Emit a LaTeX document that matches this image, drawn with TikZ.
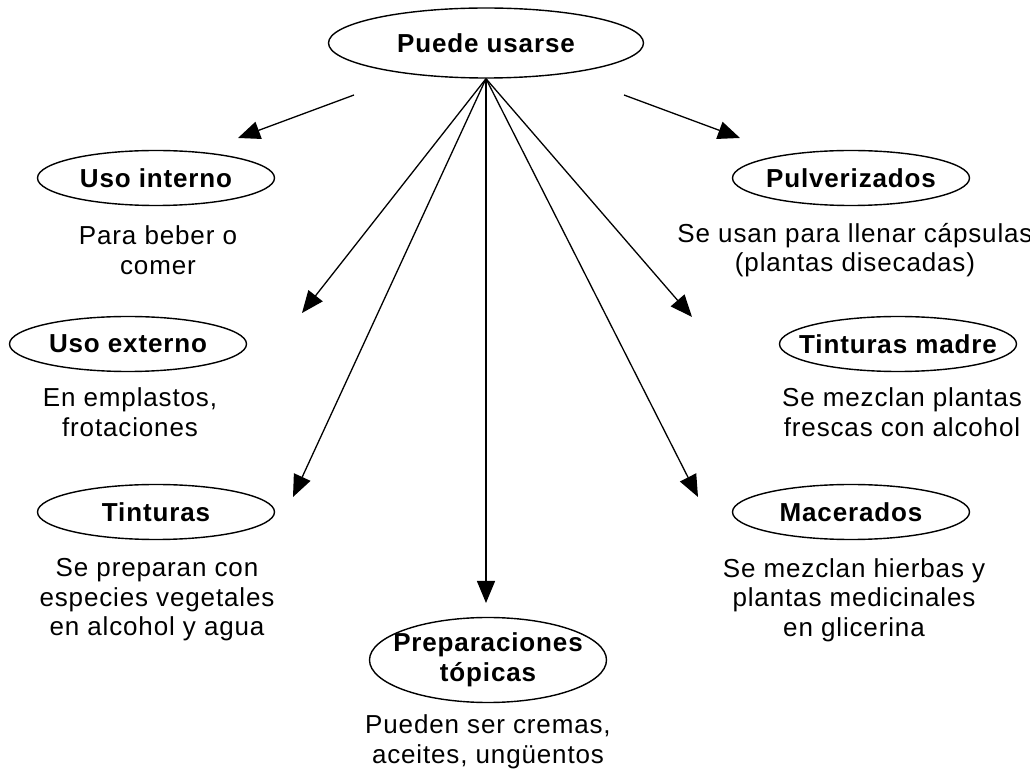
\documentclass[tikz,border=0pt]{standalone}
\usepackage{fontspec}
\setmainfont{Liberation Sans}[LetterSpace=3.3]
\usetikzlibrary{arrows.meta,shapes.geometric}

\tikzset{
  oval/.style={draw, ellipse, line width=0.7pt, inner xsep=-10pt, inner ysep=0pt,
    minimum width=118.5pt, minimum height=27.5pt, align=center,
    font=\fontsize{13}{14.8}\selectfont\bfseries},
  desc/.style={inner sep=0pt, align=center, font=\fontsize{13}{14.8}\selectfont},
  arr/.style={-{Triangle[length=11pt,width=9pt]}, line width=0.65pt}
}

\begin{document}
\begin{tikzpicture}[x=0.5pt,y=-0.5pt]
  \useasboundingbox (0,0) rectangle (1030,775);

  % centre
  \node[oval, minimum width=157.5pt, minimum height=35pt] (usarse) at (486,43) {Puede usarse};

  % left column
  \node[oval] (interno) at (156,178) {Uso interno};
  \node[desc] (interno-d) at (158,250) {Para beber o\\comer};
  \node[oval] (externo) at (128,344) {Uso externo};
  \node[desc] (externo-d) at (130,412) {En emplastos,\\frotaciones};
  \node[oval] (tinturas) at (156,512) {Tinturas};
  \node[desc] (tinturas-d) at (157,600) {Se preparan con\\especies vegetales\\en alcohol y agua};

  % bottom
  \node[oval, minimum height=42.5pt] (topicas) at (488,660) {Preparaciones\\tópicas};
  \node[desc] (topicas-d) at (488,742) {Pueden ser cremas,\\aceites, ungüentos};

  % right column
  \node[oval] (pulv) at (851,178) {Pulverizados};
  \node[desc] (pulv-d) at (855,250) {Se usan para llenar cápsulas\\(plantas disecadas)};
  \node[oval] (madre) at (898,344) {Tinturas madre};
  \node[desc] (madre-d) at (902,412) {Se mezclan plantas\\frescas con alcohol};
  \node[oval] (macerados) at (851,512) {Macerados};
  \node[desc] (macerados-d) at (854,600) {Se mezclan hierbas y\\plantas medicinales\\en glicerina};

  % arrow ends
  \coordinate (l-from) at (354,95);
  \coordinate (l-to) at (238,138);
  \coordinate (r-from) at (624,95);
  \coordinate (r-to) at (740,138);
  \coordinate (externo-t) at (302,313);
  \coordinate (tinturas-t) at (293,497);
  \coordinate (topicas-t) at (486,603);
  \coordinate (madre-t) at (692,317);
  \coordinate (macerados-t) at (698,497);

  \path (l-from)        edge[arr] (l-to)
        (r-from)        edge[arr] (r-to)
        (usarse.south)  edge[arr] (externo-t)
        (usarse.south)  edge[arr] (tinturas-t)
        (usarse.south)  edge[arr] (topicas-t)
        (usarse.south)  edge[arr] (madre-t)
        (usarse.south)  edge[arr] (macerados-t);
\end{tikzpicture}
\end{document}
